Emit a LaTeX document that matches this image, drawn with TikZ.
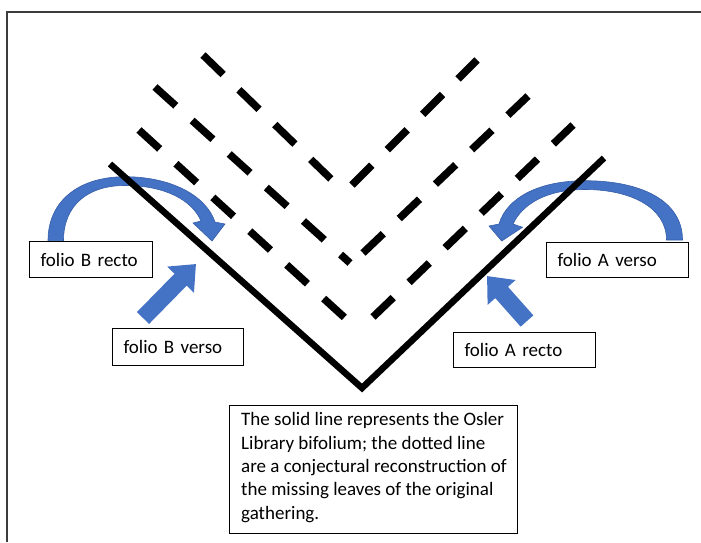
\documentclass[tikz,border=0pt]{standalone}
\usepackage{fontspec}
\setmainfont{Carlito}
\usetikzlibrary{arrows.meta}
\definecolor{arrowblue}{RGB}{68,114,196}
\definecolor{arrowedge}{RGB}{54,94,168}
\definecolor{framegray}{RGB}{60,60,60}
\newcommand\lblfont{\fontsize{19}{23.3}\selectfont}
\begin{document}
\begin{tikzpicture}[x=1pt,y=-1pt,
  labelbox/.style n args={3}{draw=black, line width=1pt, fill=white, anchor=north west,
     align=left, inner xsep=11pt, inner ysep=0pt, text width=#1, minimum height=#2, font=\lblfont},
  solidleaf/.style={line width=6.5pt, line join=miter},
  dashleaf/.style={line width=7.5pt, dash pattern=on 28pt off 22pt},
  curvedarrow/.style={fill=arrowblue, draw=arrowedge, line width=0.6pt},
  straightarrow/.style={draw=arrowblue, line width=17pt, -{Triangle[width=36pt,length=22pt]}}]
\useasboundingbox (0,0) rectangle (701,542);
% frame
\coordinate (fTR) at (701,12);
\coordinate (fTL) at (7,12);
\coordinate (fBL) at (7,542);
\draw[framegray, line width=1.5pt] (fTR) -- (fTL) -- (fBL);

% curved arrows
\fill[curvedarrow] (48,240.7) .. controls (48,200) and (80,176.7) .. (125,176.7)
  .. controls (170,176.7) and (206,195) .. (215,222) -- (225,224) -- (212,241) -- (193,223) -- (201,221)
  .. controls (192,200) and (165,185.5) .. (125,185.5)
  .. controls (88,185.5) and (63.5,205) .. (63.5,240.7) -- cycle;
\fill[curvedarrow] (682.5,240) .. controls (682.5,200) and (640,180.7) .. (585,180.7)
  .. controls (540,180.7) and (507,197) .. (499,224) -- (489,226) -- (501.7,241) -- (522.5,227.3) -- (513,224)
  .. controls (522,205) and (545,189.5) .. (585,189.5)
  .. controls (630,189.5) and (666.5,207) .. (666.5,240) -- cycle;

% straight arrows
\coordinate (bvTail) at (143,318);
\coordinate (bvTip) at (196,264);
\draw[straightarrow] (bvTail) -- (bvTip);
\coordinate (arTail) at (527,321);
\coordinate (arTip) at (487,276);
\draw[straightarrow] (arTail) -- (arTip);

% solid bifolium
\coordinate (sL) at (110,164);
\coordinate (sV) at (362,388);
\coordinate (sR) at (604,158);
\draw[solidleaf] (sL) -- (sV) -- (sR);

% dashed reconstructed leaves
\coordinate (aL1) at (139,130); \coordinate (aE1) at (345,318);
\coordinate (bL1) at (373,317); \coordinate (bE1) at (573,125);
\coordinate (aL2) at (155,87);  \coordinate (aE2) at (350,263);
\coordinate (bL2) at (363,253); \coordinate (bE2) at (528,96);
\coordinate (aL3) at (203,55);  \coordinate (aE3) at (332,180);
\coordinate (bL3) at (352,185); \coordinate (bE3) at (477,60);
\draw[dashleaf] (aL1) -- (aE1);
\draw[dashleaf] (bL1) -- (bE1);
\draw[dashleaf] (aL2) -- (aE2);
\draw[dashleaf] (bL2) -- (bE2);
\draw[dashleaf] (aL3) -- (aE3);
\draw[dashleaf] (bL3) -- (bE3);

% label boxes
\node[labelbox={101pt}{36pt}{}] (brecto) at (29,241) {folio B recto};
\node[labelbox={109pt}{37pt}{}] (bverso) at (112,328) {folio B verso};
\node[labelbox={120pt}{35pt}{}] (averso) at (546,242) {folio A verso};
\node[labelbox={120pt}{35pt}{}] (arecto) at (453,332) {folio A recto};

% note
\node[draw=black, line width=1pt, fill=white, anchor=north west, minimum width=288pt,
      minimum height=128pt, inner sep=0pt] (note) at (229,405) {};
\node[anchor=north west, align=left, inner sep=0pt, font=\lblfont] (notetext) at (241,412.5)
  {The solid line represents the Osler\\Library bifolium; the dotted line\\are a conjectural reconstruction of\\the missing leaves of the original\\gathering.};
\end{tikzpicture}
\end{document}
